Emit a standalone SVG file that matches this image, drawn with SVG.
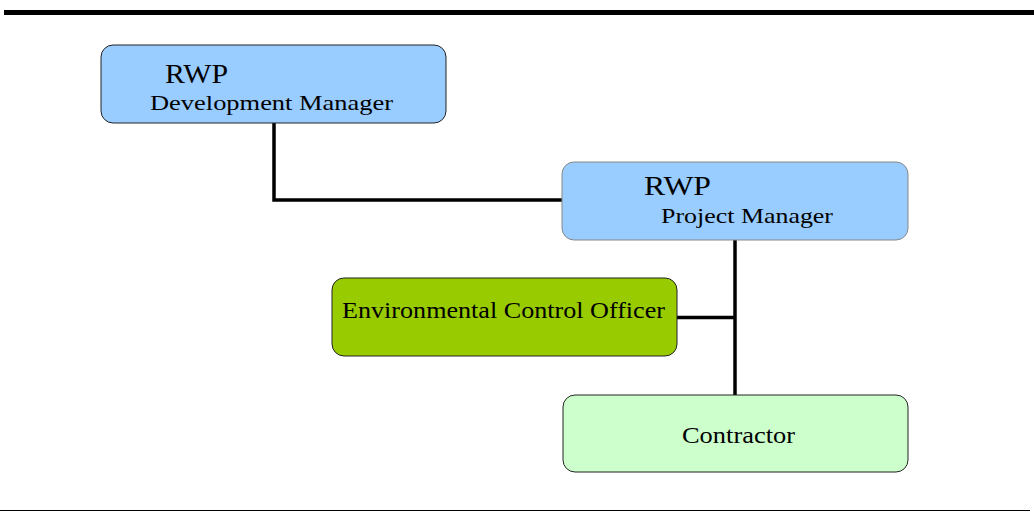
<svg xmlns="http://www.w3.org/2000/svg" width="1034" height="512" viewBox="0 0 1034 512">
<style>
.box{stroke:#222;stroke-width:1}
.t{font-family:"Liberation Serif","DejaVu Serif",serif;fill:#000}
.conn{stroke:#000;stroke-width:3.5;fill:none}
</style>
<rect width="1034" height="512" fill="#fff"/>
<line x1="4" y1="12.5" x2="1034" y2="12.5" stroke="#000" stroke-width="5"/>
<line x1="0" y1="510.5" x2="1030" y2="510.5" stroke="#000" stroke-width="1"/>
<g id="connectors">
<polyline class="conn" points="274,123 274,200 562,200"/>
<line class="conn" x1="735" y1="240" x2="735" y2="395"/>
<line class="conn" x1="677" y1="317.5" x2="735" y2="317.5"/>
</g>
<g id="dev-manager">
<rect class="box" x="101" y="45" width="345" height="78" rx="12" fill="#99CCFF"/>
<text class="t" x="165" y="83" font-size="27" textLength="63" lengthAdjust="spacingAndGlyphs">RWP</text>
<text class="t" x="150" y="110" font-size="22" textLength="243" lengthAdjust="spacingAndGlyphs">Development Manager</text>
</g>
<g id="project-manager">
<rect x="562" y="162" width="346" height="78" rx="12" fill="#99CCFF" stroke="#888" stroke-width="1"/>
<text class="t" x="644" y="195" font-size="27" textLength="67" lengthAdjust="spacingAndGlyphs">RWP</text>
<text class="t" x="661" y="223" font-size="22" textLength="172" lengthAdjust="spacingAndGlyphs">Project Manager</text>
</g>
<g id="eco">
<rect class="box" x="332" y="278" width="345" height="78" rx="12" fill="#99CC00"/>
<text class="t" x="342" y="318" font-size="23" textLength="323" lengthAdjust="spacingAndGlyphs">Environmental Control Officer</text>
</g>
<g id="contractor">
<rect class="box" x="563" y="395" width="345" height="77" rx="12" fill="#CCFFCC"/>
<text class="t" x="682" y="443" font-size="23" textLength="113" lengthAdjust="spacingAndGlyphs">Contractor</text>
</g>
</svg>
